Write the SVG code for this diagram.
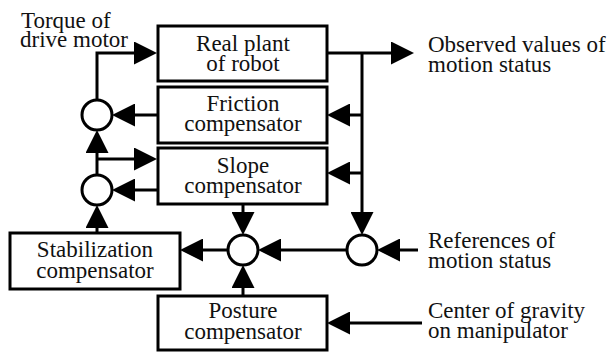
<svg xmlns="http://www.w3.org/2000/svg" width="609" height="353" viewBox="0 0 609 353">
  <defs>
    <style>
      .box { fill: #fff; stroke: #000; stroke-width: 3; }
      .sum { fill: #fff; stroke: #000; stroke-width: 3; }
      .wire { fill: none; stroke: #000; stroke-width: 3; marker-end: url(#arrow); }
      .lbl { font-family: 'Liberation Serif', 'Times New Roman', serif; font-size: 23px; fill: #111; }
      .c { text-anchor: middle; }
    </style>
    <marker id="arrow" markerUnits="userSpaceOnUse" markerWidth="23" markerHeight="23" refX="17" refY="11.5" orient="auto">
      <path d="M0,0 L23,11.5 L0,23 Z" fill="#000"/>
    </marker>
  </defs>

  <!-- signal connectors -->
  <g id="connectors">
    <path class="wire" d="M97,100 V53 H151"/>
    <path class="wire" d="M158,115 H118"/>
    <path class="wire" d="M97,175 V136"/>
    <path class="wire" d="M97,159 H151"/>
    <path class="wire" d="M158,190 H118"/>
    <path class="wire" d="M97,233 V211"/>
    <path class="wire" d="M228,250 H186"/>
    <path class="wire" d="M243,204 V229"/>
    <path class="wire" d="M243,296 V271"/>
    <path class="wire" d="M347,250 H264"/>
    <path class="wire" d="M362,53 V229"/>
    <path class="wire" d="M362,115 H333"/>
    <path class="wire" d="M362,173 H333"/>
    <path class="wire" d="M327,53 H408"/>
    <path class="wire" d="M418,250 H383"/>
    <path class="wire" d="M422,323 H333"/>
  </g>

  <!-- blocks (two-line captions set as one text each) -->
  <g id="real-plant">
    <rect class="box" x="158" y="26" width="169" height="55"/>
    <text class="lbl c"><tspan x="243" y="51">Real plant</tspan><tspan x="243" y="71">of robot</tspan></text>
  </g>
  <g id="friction-compensator">
    <rect class="box" x="158" y="87" width="169" height="56"/>
    <text class="lbl c"><tspan x="243" y="111">Friction</tspan><tspan x="243" y="131">compensator</tspan></text>
  </g>
  <g id="slope-compensator">
    <rect class="box" x="158" y="148" width="169" height="56"/>
    <text class="lbl c"><tspan x="243" y="173">Slope</tspan><tspan x="243" y="193">compensator</tspan></text>
  </g>
  <g id="stabilization-compensator">
    <rect class="box" x="10" y="233" width="170" height="56"/>
    <text class="lbl c"><tspan x="95" y="257">Stabilization</tspan><tspan x="95" y="278">compensator</tspan></text>
  </g>
  <g id="posture-compensator">
    <rect class="box" x="158" y="296" width="169" height="54"/>
    <text class="lbl c"><tspan x="243" y="318">Posture</tspan><tspan x="243" y="339">compensator</tspan></text>
  </g>

  <!-- summing points -->
  <g id="sum-torque"><circle class="sum" cx="97" cy="115" r="15"/></g>
  <g id="sum-slope"><circle class="sum" cx="97" cy="190" r="15"/></g>
  <g id="sum-stabilization"><circle class="sum" cx="243" cy="250" r="15"/></g>
  <g id="sum-error"><circle class="sum" cx="362" cy="250" r="15"/></g>

  <!-- external signal labels -->
  <g id="label-torque">
    <text class="lbl"><tspan x="21" y="28">Torque of</tspan><tspan x="20" y="47">drive motor</tspan></text>
  </g>
  <g id="label-observed">
    <text class="lbl"><tspan x="428" y="52">Observed values of</tspan><tspan x="428" y="72">motion status</tspan></text>
  </g>
  <g id="label-references">
    <text class="lbl"><tspan x="428" y="248">References of</tspan><tspan x="428" y="268">motion status</tspan></text>
  </g>
  <g id="label-gravity">
    <text class="lbl"><tspan x="428" y="318">Center of gravity</tspan><tspan x="428" y="338">on manipulator</tspan></text>
  </g>
</svg>
